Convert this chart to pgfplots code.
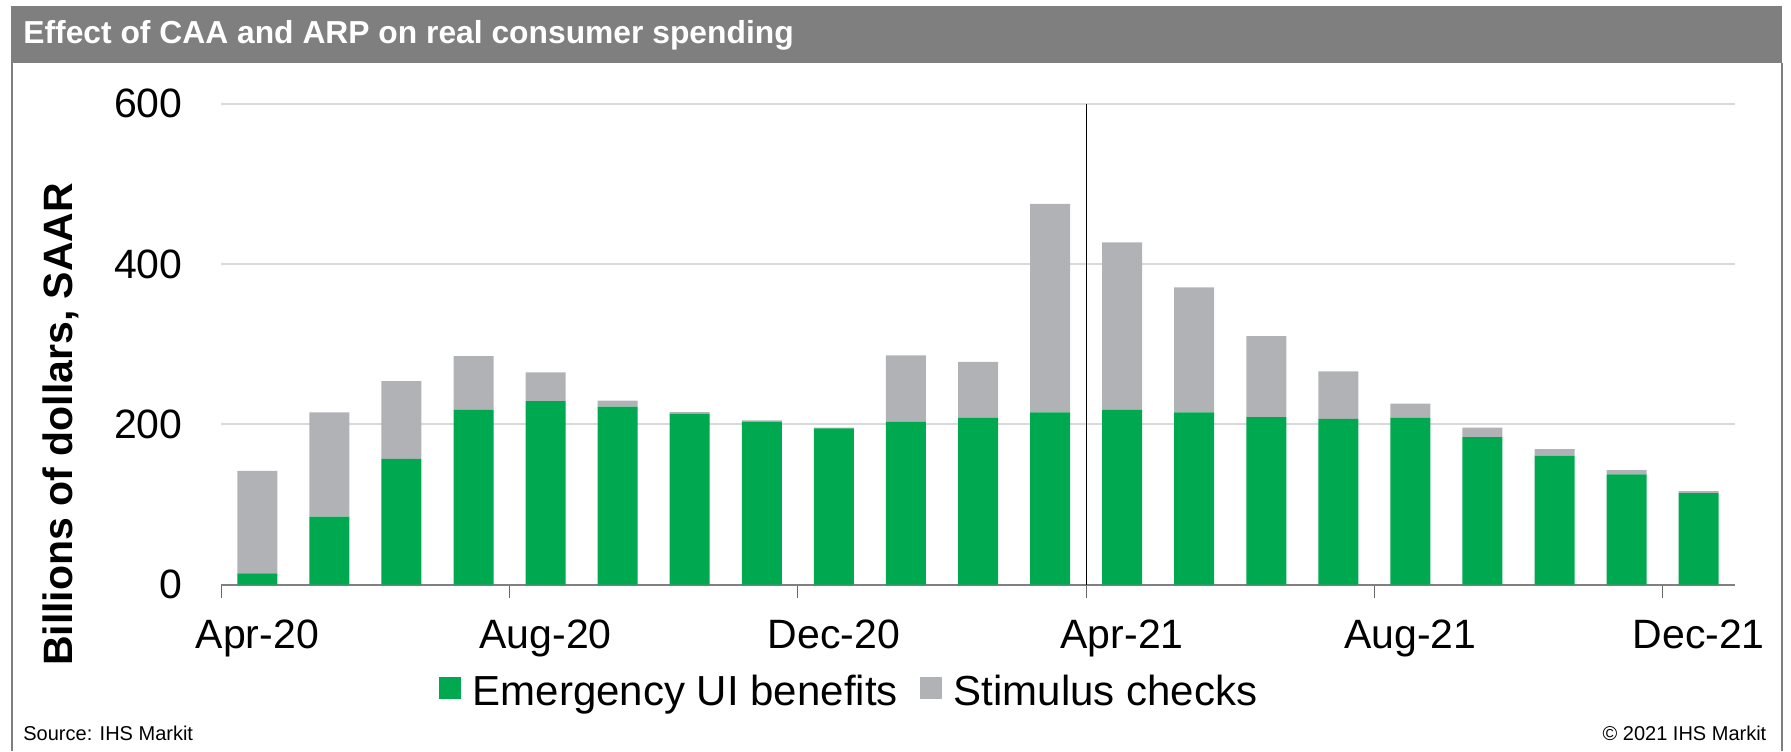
\documentclass[border=0pt]{standalone}
\usepackage{pgfplots}
\pgfplotsset{compat=1.18}
\usepackage{pgfplotstable}
\usepackage{fontspec}
\setmainfont{Liberation Sans}
\definecolor{uigreen}{HTML}{00A94F}
\definecolor{stimgray}{HTML}{B1B2B5}
\definecolor{titlegray}{HTML}{7F7F7F}
\definecolor{gridgray}{HTML}{D9D9D9}
\pgfplotstableread{
x ui stim
0 14 128
1 85 130
2 157 97
3 218 67
4 229 36
5 222 7.5
6 213 2.2
7 203 2.1
8 195 1
9 203 83
10 208 70
11 215 260
12 218 209
13 215 156
14 209 101
15 207 59
16 208 18
17 184 12
18 161 8
19 137.6 5.4
20 114.3 2.5
}\datatable
\begin{document}
\begin{tikzpicture}
% frame and title bar
\fill[titlegray] (5.5pt,344pt) rectangle (891pt,372.5pt);
\draw[titlegray, line width=1pt] (6pt,344pt) -- (6pt,0pt);
\draw[titlegray, line width=1pt] (891pt,344pt) -- (891pt,0pt);
\node[anchor=base west, inner sep=0pt, text=white, font=\fontsize{15.9pt}{18pt}\selectfont\bfseries] at (11.5pt,353.85pt) {Effect of CAA and ARP on real consumer spending};
% footer
\node[anchor=base west, inner sep=0pt, font=\fontsize{10pt}{12pt}\selectfont] at (11.5pt,5.5pt) {Source: IHS Markit};
\node[anchor=base east, inner sep=0pt, font=\fontsize{10pt}{12pt}\selectfont] at (883.35pt,5.5pt) {© 2021 IHS Markit};
% y label
\node[rotate=90, anchor=base, inner sep=0pt, font=\fontsize{20.5pt}{24pt}\selectfont\bfseries] at (36.2pt,163.25pt) {Billions of dollars, SAAR};
\begin{axis}[
  at={(110.65pt,83.15pt)}, anchor=south west,
  scale only axis, width=756.7pt, height=240.5pt,
  ybar stacked, bar width=0.555,
  xmin=-0.5, xmax=20.5, ymin=0, ymax=600,
  enlargelimits=false,
  axis x line*=bottom, axis y line*=left,
  x axis line style={draw=black!50, line width=1pt},
  y axis line style={draw=none},
  ytick={0,200,400,600},
  ymajorgrids, major grid style={gridgray, line width=1pt},
  xtick={0,4,8,12,16,20},
  xticklabels={Apr-20,Aug-20,Dec-20,Apr-21,Aug-21,Dec-21},
  minor xtick={-0.5,3.5,7.5,11.5,15.5,19.5},
  tick align=outside,
  major tick length=0pt,
  minor tick length=6.5pt,
  minor tick style={black!60, line width=0.6pt},
  major tick style={draw=none},
  /pgf/number format/assume math mode=true,
  tick label style={font=\fontsize{20.5pt}{24pt}\selectfont},
  xticklabel style={anchor=base, yshift=-31.8pt, inner sep=0pt},
  yticklabel style={anchor=east, inner sep=0pt, xshift=-19.15pt},
  legend style={at={(0.1438,-0.2232)}, anchor=west, draw=none, fill=none,
    inner sep=0pt, outer sep=0pt,
    font=\fontsize{21pt}{24pt}\selectfont,
    legend columns=2,
    /tikz/every odd column/.append style={column sep=6pt},
    /tikz/every even column/.append style={column sep=11pt},
    nodes={inner sep=0pt}},
  legend image code/.code={\fill[#1] (0pt,-3.65pt) rectangle (11pt,7.35pt);},
]
\addplot[fill=uigreen, draw=none] table[x=x, y=ui] {\datatable};
\addplot[fill=stimgray, draw=none] table[x=x, y=stim] {\datatable};
\legend{Emergency UI benefits, Stimulus checks}
\draw[black, line width=0.6pt] (axis cs:11.5,0) -- (axis cs:11.5,600);
\end{axis}
\pgfresetboundingbox
\useasboundingbox (0,0) rectangle (895.5pt,375.5pt);
\end{tikzpicture}
\end{document}
